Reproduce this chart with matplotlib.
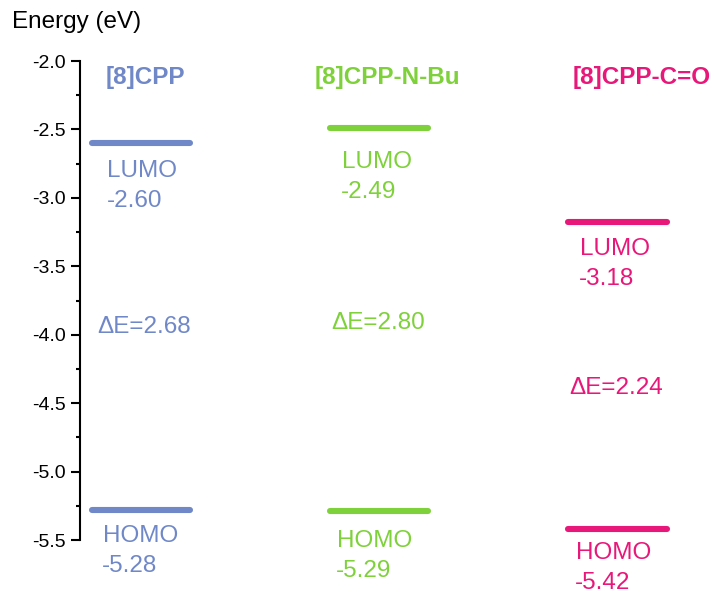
import matplotlib.pyplot as plt
import numpy as np

plt.rcParams['font.family'] = ['Liberation Sans', 'DejaVu Sans']

# frontier orbital energies (eV)
molecules = ["[8]CPP", "[8]CPP-N-Bu", "[8]CPP-C=O"]
lumo = [-2.60, -2.49, -3.18]
homo = [-5.28, -5.29, -5.42]
colors = ["#7088C8", "#7ED13A", "#E8177A"]
yticks = [-2.0, -2.5, -3.0, -3.5, -4.0, -4.5, -5.0, -5.5]

# label placement tweaks (pixels)
title_dx = [4, 8, 24]
lumo_dy = [28, 34, 27]
homo_dy = [26, 30, 24]
gap_dy = [0, 3, 12]
label_dx = [4, 0, 0]


def px(v):
    return v * 0.72


def draw_levels():
    fig = plt.figure(figsize=(7.14, 5.94), dpi=100)
    # axes spans from the -2.0 tick down to the -5.5 tick
    ax = fig.add_axes([80 / 714, 54 / 594, 634 / 714, 479 / 594])
    ax.set_ylim(-5.5, -2.0)
    ax.set_xlim(0.744, 3.405)

    xs = np.arange(1, len(molecules) + 1)
    half = 0.206
    fs = 17.5
    for i, (x, name, lu, ho, c) in enumerate(zip(xs, molecules, lumo, homo, colors)):
        for e in (lu, ho):
            ax.plot([x - half, x + half], [e, e], color=c, lw=4.4,
                    solid_capstyle="round", clip_on=False)
        ax.annotate(name, (x, -2.12), xytext=(px(title_dx[i]), 0),
                    textcoords="offset points", color=c, fontsize=fs,
                    fontweight="bold", ha="center", va="center")
        for lab, e, dy, x0 in (("LUMO", lu, lumo_dy[i], -37.5),
                               ("HOMO", ho, homo_dy[i], -42)):
            kw = dict(textcoords="offset points", color=c, fontsize=fs,
                      ha="left", va="center", annotation_clip=False)
            ax.annotate(lab, (x, e), xytext=(px(x0 + label_dx[i]), -px(dy)), **kw)
            ax.annotate("%.2f" % e, (x, e),
                        xytext=(px(x0 - 1 + label_dx[i]), -px(dy + 30)), **kw)
        ax.annotate("\u0394E=%.2f" % (lu - ho), (x, (lu + ho) / 2),
                    xytext=(px(-48 + label_dx[i]), -px(gap_dy[i])),
                    textcoords="offset points", color=c, fontsize=fs,
                    ha="left", va="center")

    for s in ("top", "right", "bottom"):
        ax.spines[s].set_visible(False)
    ax.spines["left"].set_linewidth(1.5)
    ax.set_xticks([])
    ax.set_yticks(yticks)
    ax.set_yticklabels(["%.1f" % t for t in yticks])
    ax.set_yticks(np.arange(-5.25, -2.0, 0.5), minor=True)
    ax.tick_params(axis="y", which="major", length=6.5, width=1.5,
                   labelsize=14, pad=4)
    ax.tick_params(axis="y", which="minor", length=3.2, width=1.5)

    fig.text(12 / 714, 1 - 22 / 594, "Energy (eV)", fontsize=fs,
             ha="left", va="center")
    fig.savefig("out.png", dpi=100)


def main():
    draw_levels()


if __name__ == "__main__":
    main()
